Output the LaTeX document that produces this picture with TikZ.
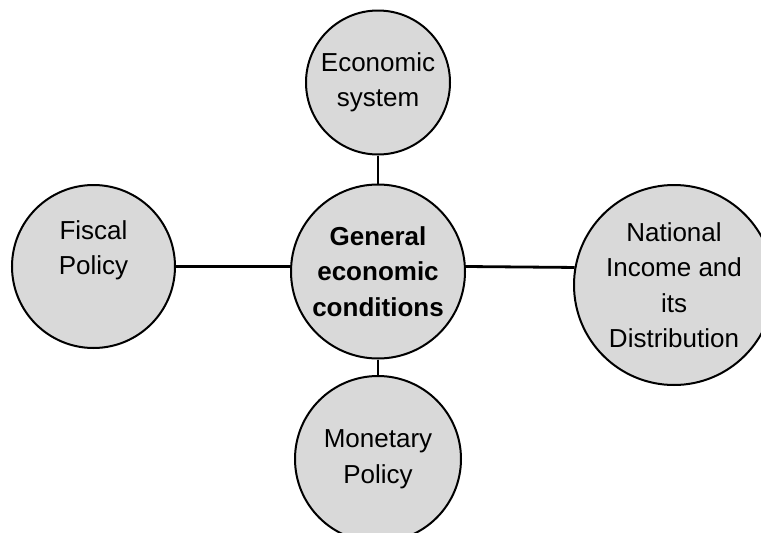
\documentclass[tikz,border=0pt]{standalone}
\usepackage{fontspec}
\setmainfont{Liberation Sans}
\definecolor{circgray}{HTML}{D9D9D9}
\tikzset{
  circ/.style={circle,draw=black,line width=2pt,fill=circgray,inner sep=0pt,align=center,
    font=\fontsize{26}{35.5}\selectfont},
  link/.style={line width=2.8pt}
}
\begin{document}
\begin{tikzpicture}[x=1pt,y=-1pt]
				\clip (0,0) rectangle (761,533);
				
				\node[circ,minimum size=174pt,font=\fontsize{26}{35.5}\selectfont\bfseries] (centre) at (378,271.5) {General\\economic\\conditions};
				\node[circ,minimum size=144pt] (econ) at (378,82.5) {Economic\\system};
				\node[circ,minimum size=166pt] (monetary) at (378,459) {Monetary\\Policy};
				\node[circ,minimum size=163pt] (fiscal) at (93.5,266.5) {};
				\node[align=center,font=\fontsize{26}{35.5}\selectfont] (fiscaltext) at ([yshift=16pt]fiscal.center) {Fiscal\\Policy};
				\node[circ,minimum size=200pt] (national) at (674,285) {National\\Income and\\its\\Distribution};
				
				\draw[link] (econ.south) -- (centre.north);
				\draw[link] (centre.south) -- (monetary.north);
				\draw[link] (fiscal.east) -- (fiscal.east -| centre.west);
				\draw[link] (fiscal.east -| centre.east) -- (national.170);
\end{tikzpicture}
\end{document}
